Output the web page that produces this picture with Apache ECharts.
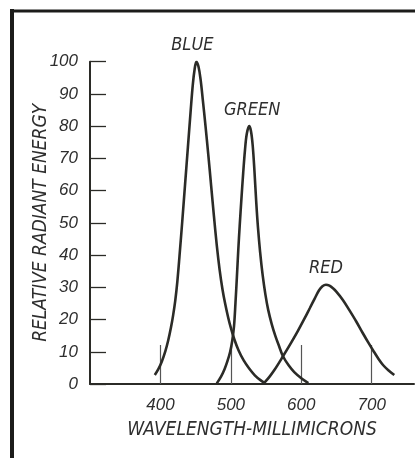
<!DOCTYPE html>
<html><head><meta charset="utf-8">
<script src="https://cdn.jsdelivr.net/npm/echarts@6/dist/echarts.min.js"></script>
<style>html,body{margin:0;padding:0;background:#fff}#c{width:415px;height:458px}</style>
</head><body><div id="c"></div>
<script>
// Data
const wavelengthTicks = [400, 500, 600, 700];
const seriesNames = ['BLUE', 'GREEN', 'RED'];
const blue = [[392,2.8],[397,4.6],[402,7],[407,10.2],[411,13.5],[415,17.6],[418,21.3],[421,25.8],[424,31.8],[427,39.5],[431,50.5],[435,62],[439,73.5],[443,85],[446,93],[448.5,97.6],[451,100],[454,98.5],[457,94.5],[460,88.5],[464,80],[468,71],[472,61.5],[476,52],[480,43],[484,35.5],[488,29.5],[492,24.8],[496,20.8],[500,17.4],[505,13.8],[511,10.4],[518,7.4],[526,4.8],[534,2.7],[542,1.2],[549,0.2]];
const green = [[480,0.2],[486,2.3],[491,4.6],[495,7],[499,10],[502,13.5],[504.5,18],[506.5,25],[508.5,33],[510.5,41.5],[512.5,49],[515,57.5],[517.5,65.5],[520,72.5],[522.5,77.5],[526,80],[528.5,78.5],[531,74],[533.5,66],[536,56.5],[538.5,48.5],[541.5,41],[545,34],[549,27.8],[553,23],[558,18.6],[563,15],[568,12],[574,8.6],[582,5.8],[590,3.7],[600,1.8],[610,0.3]];
const red = [[548,0.5],[555,2.3],[562,4.4],[574,8.6],[585,12.6],[595,16.4],[605,20.5],[612,23.5],[619,26.5],[625,29],[630,30.3],[635,30.8],[640,30.5],[645,29.7],[650,28.6],[659,26.1],[668,23],[678,19.4],[687,15.9],[695,12.9],[702,10.4],[709,8],[716,5.9],[724,4.2],[732,2.8]];

const ink = '#2b2b27';
const txt = '#2e2e2e';
const narrow = '"Liberation Sans Narrow","DejaVu Sans Condensed","Liberation Sans",sans-serif';
const regular = '"Liberation Sans","DejaVu Sans",sans-serif';

const chart = echarts.init(document.getElementById('c'), null, {renderer: 'canvas'});
const dataSets = [blue, green, red];
const labelOffsets = [[-4, 0], [3, 0], [0, 0]];

chart.setOption({
  backgroundColor: '#ffffff',
  animation: false,
  grid: {left: 90, right: 1, top: 61.7, bottom: 74, containLabel: false},
  xAxis: {
    type: 'value', min: 300, max: 760,
    name: 'WAVELENGTH-MILLIMICRONS', nameLocation: 'middle', nameGap: 37, nameMoveOverlap: false,
    nameTextStyle: {fontFamily: narrow, fontStyle: 'italic', fontSize: 19, color: txt},
    axisLine: {show: true, lineStyle: {color: ink, width: 2}},
    axisTick: {show: true, inside: true, length: 39, customValues: wavelengthTicks, lineStyle: {color: '#555', width: 1.2}},
    axisLabel: {show: true, customValues: wavelengthTicks, margin: 13, fontFamily: regular, fontStyle: 'italic', fontSize: 17, color: txt},
    splitLine: {show: false}
  },
  yAxis: {
    type: 'value', min: 0, max: 100, interval: 10,
    name: 'RELATIVE RADIANT ENERGY', nameLocation: 'middle', nameGap: 39, nameRotate: 90, nameMoveOverlap: false,
    nameTextStyle: {fontFamily: narrow, fontStyle: 'italic', fontSize: 19, color: txt},
    axisLine: {show: true, lineStyle: {color: ink, width: 2}},
    axisTick: {show: true, inside: true, length: 16, lineStyle: {color: ink, width: 1.3}},
    axisLabel: {margin: 12, fontFamily: regular, fontStyle: 'italic', fontSize: 17, color: txt},
    splitLine: {show: false}
  },
  series: dataSets.map((d, i) => ({
    type: 'line', name: seriesNames[i], data: d, smooth: 0.35,
    showSymbol: false, symbol: 'none',
    lineStyle: {color: ink, width: 2.6},
    markPoint: {
      symbol: 'circle', symbolSize: 0,
      data: [{type: 'max', valueDim: 'y'}],
      label: {show: true, position: 'top', distance: 7, offset: labelOffsets[i],
        formatter: seriesNames[i], fontFamily: narrow, fontStyle: 'italic', fontSize: 18, color: txt}
    }
  })),
  graphic: [
    {type: 'line', shape: {x1: 12, y1: 9, x2: 12, y2: 458}, style: {stroke: '#1c1c1a', lineWidth: 4}},
    {type: 'line', shape: {x1: 10, y1: 11, x2: 415, y2: 11}, style: {stroke: '#1c1c1a', lineWidth: 3}}
  ]
});
</script></body></html>
